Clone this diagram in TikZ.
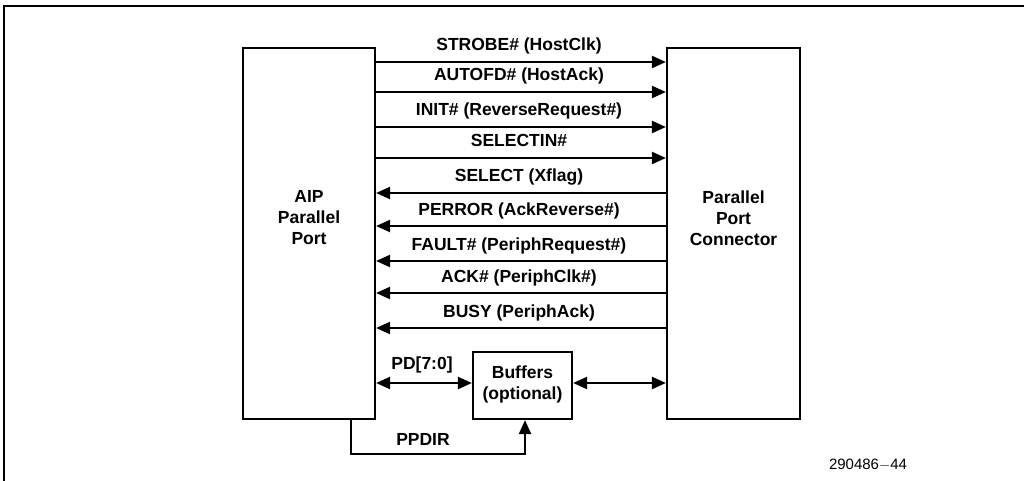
\documentclass[tikz,border=0pt]{standalone}
\usepackage{fontspec}
\setmainfont{Liberation Sans}
\usetikzlibrary{arrows.meta}
\begin{document}
\begin{tikzpicture}[x=1pt,y=-1pt,
  blk/.style={draw,line width=2.2pt,inner sep=0pt},
  sig/.style={line width=2.2pt,-{Triangle[length=14pt,width=12pt]}},
  bidir/.style={line width=2.2pt,{Triangle[length=14pt,width=12pt]}-{Triangle[length=14pt,width=12pt]}},
  lbl/.style={font=\fontsize{17.5}{20}\selectfont\bfseries,inner sep=0pt},
  blbl/.style={font=\fontsize{17.5}{21}\selectfont\bfseries,align=center,inner sep=0pt}]
\useasboundingbox (0,0) rectangle (1024,481);
\draw[line width=1.3pt] (4,481) -- (4,6) -- (1024,6);
% blocks
\node[blk,minimum width=132pt,minimum height=371pt] (aip) at (309,233.5) {};
\node[blk,minimum width=133pt,minimum height=371pt] (ppc) at (733.5,233.5) {};
\node[blk,minimum width=99pt,minimum height=67pt] (buf) at (522.5,385.5) {};
\node[blbl] at (309,218) {AIP\\Parallel\\Port};
\node[blbl] at (733.5,218) {Parallel\\Port\\Connector};
\node[blbl] at (522.5,384.5) {Buffers\\(optional)};
% outputs
\foreach \y/\t in {62/{STROBE\# (HostClk)},92/{AUTOFD\# (HostAck)},127/{INIT\# (ReverseRequest\#)},158/{SELECTIN\#}}{
  \draw[sig] (aip.east |- 0,\y) coordinate (s) -- (ppc.west |- 0,\y);
  \node[lbl,anchor=base] at (519,\y-11) {\t};
}
\foreach \y/\t in {193/{SELECT (Xflag)},226/{PERROR (AckReverse\#)},261/{FAULT\# (PeriphRequest\#)},293/{ACK\# (PeriphClk\#)},328/{BUSY (PeriphAck)}}{
  \draw[sig] (ppc.west |- 0,\y) -- (aip.east |- 0,\y);
  \node[lbl,anchor=base] at (519,\y-11) {\t};
}
\draw[bidir] (aip.east |- 0,383) -- (buf.west |- 0,383);
\draw[bidir] (buf.east |- 0,383) -- (ppc.west |- 0,383);
\node[lbl,anchor=base] (pd) at (422,369) {PD[7:0]};
\coordinate (c1) at (351,454);
\draw[sig] (aip.south -| 351,0) -- (c1) -- (c1 -| 525,0) -- (buf.south -| 525,0);
\node[lbl,anchor=base] (ppdir) at (423,445) {PPDIR};
\node[font=\fontsize{15}{18}\selectfont,anchor=base,inner sep=0pt] (fig) at (868,469) {290486$-$44};
\end{tikzpicture}
\end{document}
